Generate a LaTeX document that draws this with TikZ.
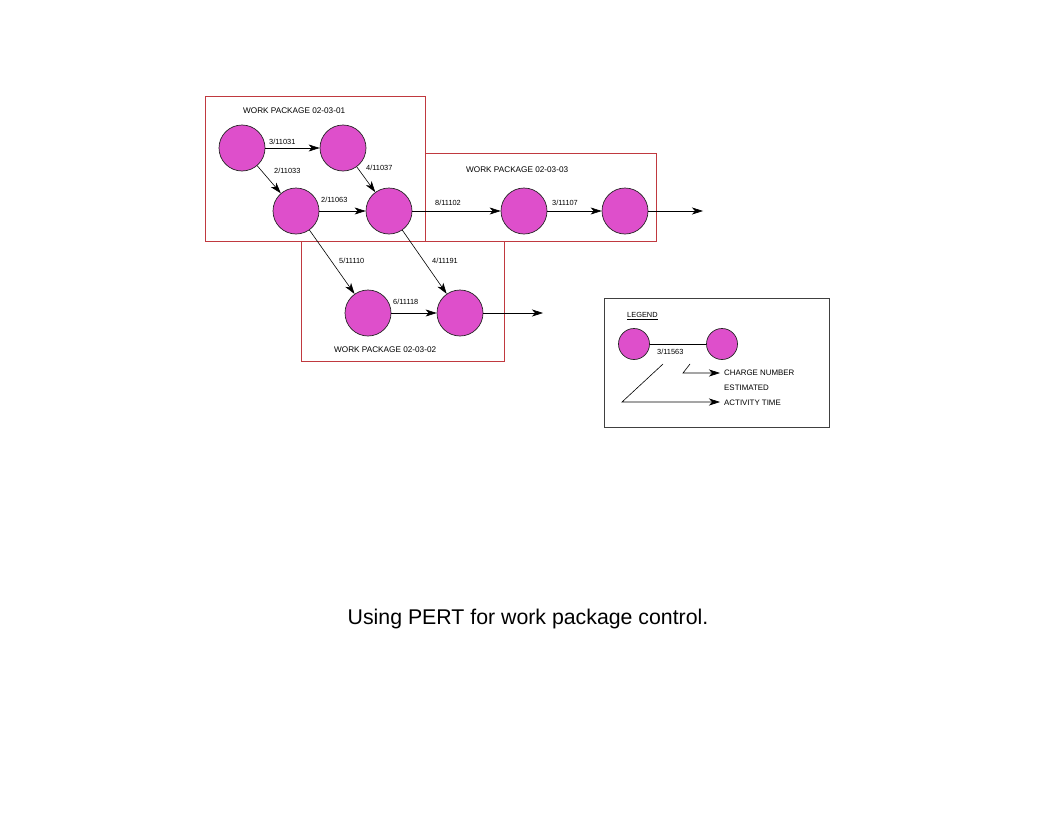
\documentclass[tikz,border=0pt]{standalone}
\usepackage{fontspec}
\setmainfont{Liberation Sans}
\usetikzlibrary{arrows.meta}
\definecolor{evc}{HTML}{DE4FCB}
\definecolor{wpc}{HTML}{C0393F}
\begin{document}
\begin{tikzpicture}[x=1pt,y=-1pt,
  ev/.style={circle,draw=black!85,fill=evc,line width=0.7pt,minimum size=46pt,inner sep=0pt},
  lev/.style={circle,draw=black!85,fill=evc,line width=0.7pt,minimum size=31pt,inner sep=0pt},
  conn/.style={line width=0.6pt,-{Stealth[length=11pt,width=7pt,inset=3pt]}},
  plain/.style={line width=0.6pt},
  lab/.style={anchor=west,inner sep=0pt,font=\fontsize{7.4}{8}\selectfont},
  ttl/.style={anchor=west,inner sep=0pt,font=\fontsize{8.2}{9}\selectfont},
  lgt/.style={anchor=west,inner sep=0pt,font=\fontsize{7.9}{9}\selectfont},
  wpbox/.style={draw=wpc,line width=0.8pt},
  lgbox/.style={draw=black!75,line width=0.8pt}]
\useasboundingbox (0,0) rectangle (1056,816);
% work package boxes
\draw[wpbox] (205,96) rectangle (425,241);
\draw[wpbox] (425,153) rectangle (656,241);
\draw[wpbox] (301,241) rectangle (504,361);
% titles
\node[ttl] (t1) at (243,111) {WORK PACKAGE 02-03-01};
\node[ttl] (t3) at (466,170) {WORK PACKAGE 02-03-03};
\node[ttl] (t2) at (334,350) {WORK PACKAGE 02-03-02};
% events
\node[ev] (A) at (242,148) {};
\node[ev] (B) at (343,148) {};
\node[ev] (C) at (296,211) {};
\node[ev] (D) at (389,211) {};
\node[ev] (E) at (524,211) {};
\node[ev] (F) at (625,211) {};
\node[ev] (G) at (368,313) {};
\node[ev] (H) at (460,313) {};
\coordinate (Fo) at (703,211);
\coordinate (Ho) at (543,313);
% connectors
\draw[conn] (A) -- (B);
\draw[conn] (A) -- (C);
\draw[conn] (B) -- (D);
\draw[conn] (C) -- (D);
\draw[conn] (D) -- (E);
\draw[conn] (E) -- (F);
\draw[conn] (F) -- (Fo);
\draw[conn] (C) -- (G);
\draw[conn] (D) -- (H);
\draw[conn] (G) -- (H);
\draw[conn] (H) -- (Ho);
% labels
\node[lab] (l1) at (269,142) {3/11031};
\node[lab] (l2) at (274,171) {2/11033};
\node[lab] (l3) at (366,168) {4/11037};
\node[lab] (l4) at (321,200) {2/11063};
\node[lab] (l5) at (435,203) {8/11102};
\node[lab] (l6) at (552,203) {3/11107};
\node[lab] (l7) at (339,261) {5/11110};
\node[lab] (l8) at (432,261) {4/11191};
\node[lab] (l9) at (393,302) {6/11118};
% legend
\draw[lgbox] (604,298) rectangle (829,427);
\node[lab] (lg) at (627,316) {\underline{LEGEND}};
\node[lev] (L1) at (634,344) {};
\node[lev] (L2) at (722,344) {};
\draw[plain] (L1) -- (L2);
\node[lab] (lgl) at (657,352) {3/11563};
\coordinate (p1) at (690,364);
\coordinate (p2) at (683,373);
\coordinate (p3) at (720,373);
\coordinate (q1) at (663,364);
\coordinate (q2) at (622,402);
\coordinate (q3) at (720,402);
\draw[conn] (p1) -- (p2) -- (p3);
\draw[conn] (q1) -- (q2) -- (q3);
\node[lgt] (cn) at (724,373) {CHARGE NUMBER};
\node[lgt] (es) at (724,388) {ESTIMATED};
\node[lgt] (at) at (724,403) {ACTIVITY TIME};
% caption
\node[font=\fontsize{21.3}{24}\selectfont,inner sep=0pt] (cap) at (528,619) {Using PERT for work package control.};
\end{tikzpicture}
\end{document}
